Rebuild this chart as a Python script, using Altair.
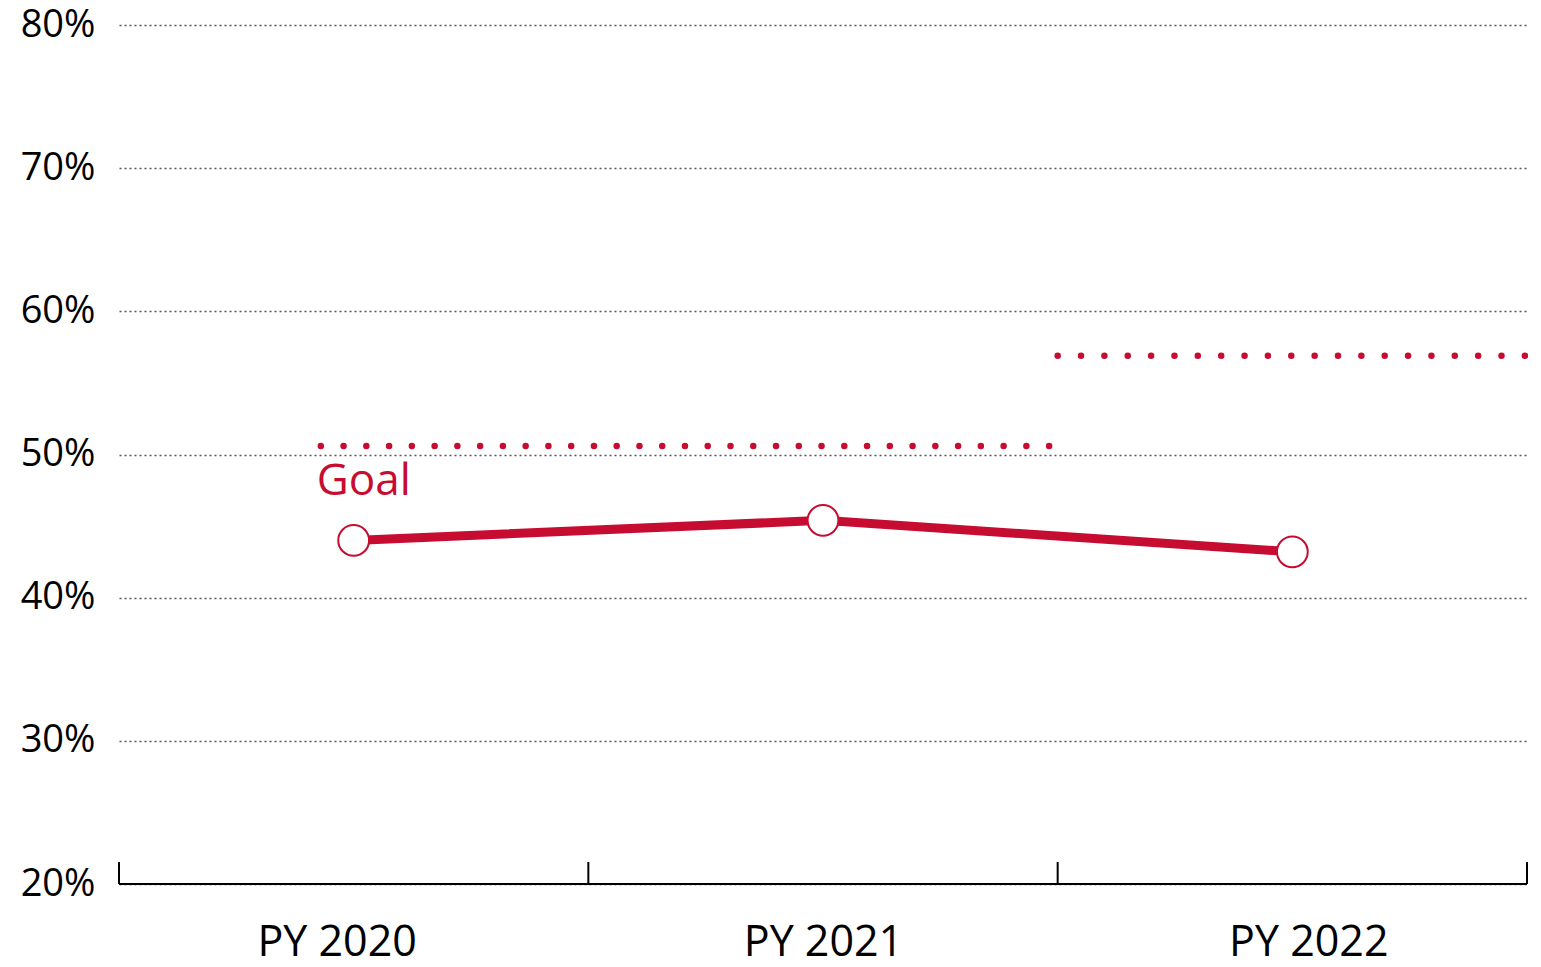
import altair as alt
import pandas as pd

years = ["PY 2020", "PY 2021", "PY 2022"]
rates = [44.0, 45.4, 43.2]
goal_values = [50.6, 56.9]
goal_starts = [0.43, 2.0]
goal_ends = [1.995, 3.0]
y_ticks = [20, 30, 40, 50, 60, 70, 80]

RED = "#C60C30"
FONT = "Open Sans"
W, H = 1408, 859

df = pd.DataFrame({"pos": [i + 0.5 for i in range(len(years))], "year": years, "rate": rates})
goals = pd.DataFrame({"x": goal_starts, "x2": goal_ends, "goal": goal_values,
                      "idx": list(range(len(goal_values)))})
bounds = pd.DataFrame({"b": list(range(len(years) + 1)), "base": [y_ticks[0]] * (len(years) + 1)})
axis_df = pd.DataFrame({"x": [0], "x2": [len(years)], "y": [y_ticks[0]]})

xscale = alt.Scale(domain=[0, len(years)], nice=False, zero=False)
yscale = alt.Scale(domain=[y_ticks[0], y_ticks[-1]], nice=False, zero=False)

label_expr = "[" + ",".join(f"'{y}'" for y in years) + "][floor(datum.value)]"

x_axis = alt.Axis(values=df["pos"].tolist(), labelExpr=label_expr, ticks=False, domain=False,
                  grid=False, labelFontSize=43, labelPadding=37, labelFont=FONT,
                  labelColor="black", title=None,
                  labelOffset={"condition": [{"test": "datum.value < 1", "value": -17},
                                             {"test": "datum.value > 2", "value": 16}],
                               "value": 0})
y_axis = alt.Axis(values=y_ticks, labelExpr="datum.value + '%'", grid=True, gridDash=[2, 3],
                  gridColor="#555555", gridWidth=1.5, domain=False, ticks=False,
                  labelFontSize=38, labelPadding=24, labelFont=FONT, labelColor="black", title=None)

base = alt.Chart(df)

line = base.mark_line(color=RED, strokeWidth=9).encode(
    x=alt.X("pos:Q", scale=xscale, axis=x_axis),
    y=alt.Y("rate:Q", scale=yscale, axis=y_axis),
)

points = base.mark_point(filled=True, fill="white", stroke=RED, strokeWidth=2,
                         size=950, opacity=1, shape="circle").encode(
    x=alt.X("pos:Q", scale=xscale),
    y=alt.Y("rate:Q", scale=yscale),
)

def goal_layer(i, gap):
    return alt.Chart(goals).transform_filter(alt.datum.idx == i).mark_rule(
        color=RED, strokeWidth=6.5, strokeDash=[0.01, gap], strokeCap="round").encode(
        x=alt.X("x:Q", scale=xscale),
        x2="x2:Q",
        y=alt.Y("goal:Q", scale=yscale),
    )

goal_rules = [goal_layer(0, 22.75), goal_layer(1, 23.35)]

goal_text = alt.Chart(goals).transform_filter(alt.datum.idx == 0).mark_text(
    text="Goal", align="left", baseline="alphabetic",
    dx=-4, dy=49, fontSize=44, font=FONT, color=RED).encode(
    x=alt.X("x:Q", scale=xscale),
    y=alt.Y("goal:Q", scale=yscale),
)

axis_line = alt.Chart(axis_df).mark_rule(color="black", strokeWidth=2).encode(
    x=alt.X("x:Q", scale=xscale),
    x2="x2:Q",
    y=alt.Y("y:Q", scale=yscale),
)

ticks = alt.Chart(bounds).mark_rule(color="black", strokeWidth=2).encode(
    x=alt.X("b:Q", scale=xscale),
    y=alt.Y("base:Q", scale=yscale),
    y2=alt.value(H - 22),
)

chart = alt.layer(*goal_rules, axis_line, ticks, line, points, goal_text).properties(
    width=W, height=H,
    padding={"left": 111, "top": 17, "right": 6, "bottom": 92},
    autosize=alt.AutoSizeParams(type="none"),
).configure(font=FONT).configure_view(stroke=None).configure_axisX(grid=False)

chart.save("out.html", embed_options={"renderer": "svg", "actions": False})
